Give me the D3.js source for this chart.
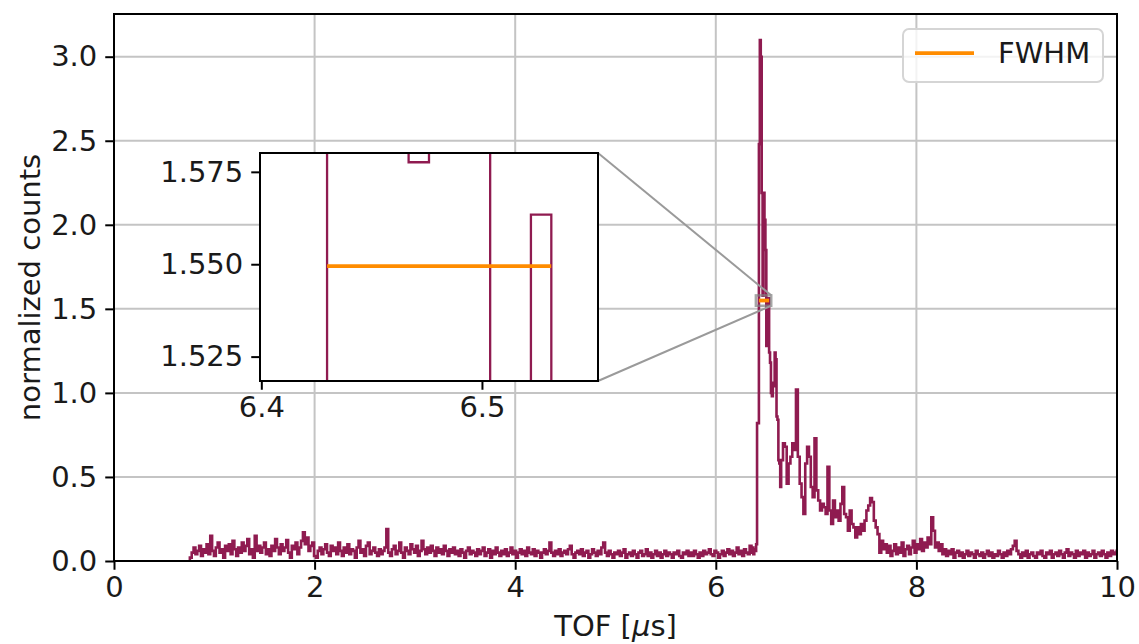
<!DOCTYPE html>
<html><head><meta charset="utf-8">
<script src="https://cdn.jsdelivr.net/npm/d3@7"></script>
<style>body{margin:0;background:#fff}</style>
</head><body><svg id="c" width="1139" height="644"></svg>
<script>
// ---------------- data ----------------
const binWidth = 0.00924;          // fine TOF bin width [µs]
const peakEdge = 6.4298;           // left edge of the FWHM bin
const coarseFactor = 2;            // coarse bins = 2 fine bins (away from the peak)
// counts before the peak (coarse bins)
const baselineCounts = [
 0.02,0.05,0.08,0.04,0.06,0.09,0.03,0.07,0.05,0.10,
 0.04,0.15,0.06,0.03,0.08,0.11,0.05,0.07,0.02,0.09,
 0.06,0.10,0.04,0.12,0.07,0.03,0.08,0.05,0.11,0.06,
 0.09,0.13,0.04,0.07,0.02,0.15,0.06,0.09,0.05,0.08,
 0.11,0.04,0.07,0.03,0.09,0.06,0.13,0.08,0.04,0.10,
 0.06,0.08,0.125,0.05,0.02,0.09,0.07,0.11,0.04,0.08,
 0.12,0.17,0.10,0.14,0.06,0.09,0.11,0.03,0.02,0.06,
 0.08,0.04,0.07,0.10,0.05,0.03,0.09,0.06,0.08,0.04,
 0.11,0.06,0.03,0.08,0.05,0.10,0.04,0.07,0.06,0.02,
 0.08,0.12,0.05,0.07,0.03,0.09,0.11,0.04,0.06,0.08,
 0.05,0.03,0.07,0.04,0.06,0.08,0.19,0.05,0.03,0.07,
 0.09,0.04,0.06,0.11,0.05,0.02,0.08,0.06,0.04,0.10,
 0.07,0.05,0.09,0.03,0.06,0.12,0.07,0.04,0.08,0.05,
 0.09,0.06,0.03,0.08,0.05,0.07,0.04,0.09,0.06,0.03,
 0.07,0.05,0.08,0.04,0.06,0.03,0.07,0.05,0.02,0.06,
 0.08,0.04,0.06,0.05,0.03,0.07,0.04,0.06,0.08,0.03,
 0.05,0.07,0.02,0.06,0.04,0.08,0.05,0.03,0.06,0.04,
 0.07,0.03,0.05,0.08,0.04,0.06,0.02,0.05,0.07,0.04,
 0.06,0.03,0.08,0.05,0.04,0.07,0.03,0.06,0.05,0.02,
 0.05,0.07,0.04,0.06,0.11,0.05,0.03,0.06,0.04,0.07,
 0.03,0.05,0.06,0.04,0.07,0.09,0.04,0.02,0.05,0.06,
 0.04,0.07,0.03,0.05,0.06,0.02,0.04,0.07,0.05,0.03,
 0.06,0.04,0.08,0.11,0.05,0.03,0.06,0.04,0.02,0.05,
 0.04,0.06,0.03,0.05,0.07,0.02,0.04,0.05,0.03,0.06,
 0.04,0.02,0.05,0.06,0.03,0.04,0.07,0.03,0.05,0.02,
 0.04,0.06,0.03,0.05,0.02,0.04,0.06,0.03,0.05,0.04,
 0.02,0.05,0.04,0.06,0.03,0.02,0.05,0.04,0.06,0.03,
 0.05,0.03,0.06,0.04,0.02,0.05,0.03,0.06,0.04,0.05,
 0.07,0.04,0.03,0.06,0.05,0.02,0.04,0.06,0.03,0.05,
 0.07,0.04,0.06,0.03,0.05,0.08,0.04,0.06,0.03,0.07,
 0.05,0.04,0.09
];
// counts around the peak (fine bins, first bin starts 8 bins before peakEdge)
const peakCounts = [
 0.05,0.08,0.04,0.07,0.06,0.10,0.82,0.82,
 2.48,3.099,3.00,2.19,1.5776,2.19,2.03,1.85,
 1.28,1.45,1.5634,1.24,1.18,1.00,0.98,1.06,
 1.04,1.24,1.20,0.86,0.84,0.60,0.58,0.44
];
// counts after the peak (coarse bins)
const tailCounts = [
 0.60,0.70,0.68,0.46,0.58,0.62,0.70,0.66,1.02,0.62,
 0.46,0.38,0.28,0.58,0.68,0.62,0.44,0.38,0.73,0.42,
 0.36,0.30,0.34,0.32,0.28,0.56,0.30,0.22,0.36,0.26,
 0.30,0.24,0.34,0.44,0.28,0.26,0.18,0.30,0.22,0.20,
 0.14,0.20,0.16,0.22,0.18,0.24,0.30,0.33,0.375,0.35,
 0.24,0.20,0.16,0.05,0.12,0.07,0.10,0.05,0.09,0.03,
 0.06,0.10,0.04,0.08,0.05,0.11,0.03,0.07,0.09,0.04,
 0.08,0.12,0.05,0.10,0.07,0.13,0.06,0.11,0.08,0.14,
 0.10,0.26,0.18,0.08,0.11,0.06,0.10,0.04,0.07,0.03,
 0.06,0.04,0.07,0.02,0.05,0.06,0.03,0.05,0.02,0.04,
 0.06,0.03,0.05,0.04,0.02,0.06,0.04,0.03,0.05,0.02,
 0.04,0.06,0.03,0.05,0.02,0.04,0.03,0.06,0.04,0.02,
 0.05,0.03,0.06,0.04,0.07,0.09,0.12,0.06,0.04,0.02,
 0.05,0.03,0.06,0.02,0.04,0.05,0.03,0.02,0.05,0.04,
 0.06,0.03,0.02,0.05,0.04,0.06,0.02,0.04,0.05,0.03,
 0.06,0.04,0.02,0.05,0.07,0.03,0.05,0.04,0.02,0.06,
 0.03,0.05,0.04,0.06,0.02,0.05,0.03,0.04,0.06,0.02,
 0.04,0.05,0.03,0.06,0.04,0.02,0.05,0.03,0.06,0.04,
 0.05,0.06
];
const fwhmRange = [6.4298, 6.5314];
const fwhmLevel = 1.5495;
const legendLabel = "FWHM";
const xDomain = [0, 10];
const yDomain = [0, 3.254];
const xTicks = [0, 2, 4, 6, 8, 10];
const yTicks = [0, 0.5, 1.0, 1.5, 2.0, 2.5, 3.0];
const insetXDomain = [6.3994, 6.5526];
const insetYDomain = [1.5184, 1.5801];
const insetXTicks = [6.4, 6.5];
const insetYTicks = [1.525, 1.550, 1.575];

// ---------------- build histogram edges ----------------
const coarse = coarseFactor * binWidth;
const fineStart = peakEdge - 8 * binWidth;
const edges = [fineStart - baselineCounts.length * coarse];
const values = [];
function addBins(arr, w) {
  arr.forEach(v => { values.push(v); edges.push(edges[edges.length - 1] + w); });
}
addBins(baselineCounts, coarse);
addBins(peakCounts, binWidth);
addBins(tailCounts, coarse);
const steps = [[edges[0], 0]];
values.forEach((v, i) => { steps.push([edges[i], v], [edges[i + 1], v]); });
steps.push([edges[edges.length - 1], 0]);

// ---------------- drawing ----------------
const FONT = "DejaVu Sans";
const FS = 29;
const HIST = "#8f1b50";
const ORANGE = "#ff8c00";
const svg = d3.select("#c");
const L = 114, R = 1117, T = 14, B = 561;
const x = d3.scaleLinear(xDomain, [L, R]);
const y = d3.scaleLinear(yDomain, [B, T]);

const defs = svg.append("defs");
defs.append("clipPath").attr("id", "mainClip").append("rect")
  .attr("x", L).attr("y", T).attr("width", R - L).attr("height", B - T);

// grid
const grid = svg.append("g").attr("stroke", "#c4c4c4").attr("stroke-width", 2);
xTicks.forEach(t => grid.append("line").attr("x1", x(t)).attr("x2", x(t)).attr("y1", T).attr("y2", B));
yTicks.forEach(t => grid.append("line").attr("x1", L).attr("x2", R).attr("y1", y(t)).attr("y2", y(t)));

// histogram
const line = (sx, sy) => d3.line().x(d => sx(d[0])).y(d => sy(d[1]));
svg.append("path").attr("clip-path", "url(#mainClip)")
  .attr("d", line(x, y)(steps)).attr("fill", "none")
  .attr("stroke", HIST).attr("stroke-width", 2.6).attr("stroke-linejoin", "miter");
svg.append("line").attr("x1", x(fwhmRange[0])).attr("x2", x(fwhmRange[1]))
  .attr("y1", y(fwhmLevel)).attr("y2", y(fwhmLevel))
  .attr("stroke", ORANGE).attr("stroke-width", 3.75);

// indicator rectangle
const rx0 = x(insetXDomain[0]), rx1 = x(insetXDomain[1]);
const ry0 = y(insetYDomain[1]), ry1 = y(insetYDomain[0]);
svg.append("rect").attr("x", rx0).attr("y", ry0).attr("width", rx1 - rx0).attr("height", ry1 - ry0)
  .attr("fill", "none").attr("stroke", "rgba(128,128,128,0.7)").attr("stroke-width", 2.5);

// axes
function styleAxis(g) {
  g.select(".domain").remove();
  g.selectAll(".tick line").attr("stroke", "#000").attr("stroke-width", 2);
  g.selectAll(".tick text").attr("font-family", FONT).attr("font-size", FS).attr("fill", "#1a1a1a");
}
svg.append("g").attr("transform", `translate(0,${B})`)
  .call(d3.axisBottom(x).tickValues(xTicks).tickFormat(d3.format("d")).tickSize(8.75).tickPadding(7))
  .call(styleAxis);
svg.append("g").attr("transform", `translate(${L},0)`)
  .call(d3.axisLeft(y).tickValues(yTicks).tickFormat(d3.format(".1f")).tickSize(8.75).tickPadding(8))
  .call(styleAxis);
svg.append("rect").attr("x", L).attr("y", T).attr("width", R - L).attr("height", B - T)
  .attr("fill", "none").attr("stroke", "#000").attr("stroke-width", 2);

// axis labels
const xl = svg.append("text").attr("x", (L + R) / 2).attr("y", 636).attr("text-anchor", "middle")
  .attr("font-family", FONT).attr("font-size", FS).attr("fill", "#1a1a1a");
xl.append("tspan").text("TOF [");
xl.append("tspan").attr("font-style", "italic").text("μ");
xl.append("tspan").text("s]");
svg.append("text").attr("transform", `translate(40,${(T + B) / 2}) rotate(-90)`)
  .attr("text-anchor", "middle").attr("font-family", FONT).attr("font-size", FS).attr("fill", "#1a1a1a")
  .text("normalized counts");

// legend
const lg = svg.append("g");
lg.append("rect").attr("x", 903).attr("y", 29).attr("width", 200).attr("height", 53).attr("rx", 6)
  .attr("fill", "rgba(255,255,255,0.8)").attr("stroke", "#d5d5d5").attr("stroke-width", 2);
lg.append("line").attr("x1", 915).attr("x2", 974).attr("y1", 53).attr("y2", 53)
  .attr("stroke", ORANGE).attr("stroke-width", 3.75);
lg.append("text").attr("x", 998).attr("y", 63).attr("font-family", FONT).attr("font-size", FS)
  .attr("fill", "#1a1a1a").text(legendLabel);

// inset
const IL = 260, IR = 598, IT = 153, IB = 381;
const ix = d3.scaleLinear(insetXDomain, [IL, IR]);
const iy = d3.scaleLinear(insetYDomain, [IB, IT]);
// connectors
svg.append("line").attr("x1", IR).attr("y1", IT).attr("x2", rx1).attr("y2", ry0)
  .attr("stroke", "#9a9a9a").attr("stroke-width", 2);
svg.append("line").attr("x1", IR).attr("y1", IB).attr("x2", rx1).attr("y2", ry1)
  .attr("stroke", "#9a9a9a").attr("stroke-width", 2);
defs.append("clipPath").attr("id", "insetClip").append("rect")
  .attr("x", IL).attr("y", IT).attr("width", IR - IL).attr("height", IB - IT);
svg.append("rect").attr("x", IL).attr("y", IT).attr("width", IR - IL).attr("height", IB - IT).attr("fill", "#fff");
svg.append("path").attr("clip-path", "url(#insetClip)")
  .attr("d", line(ix, iy)(steps)).attr("fill", "none")
  .attr("stroke", HIST).attr("stroke-width", 2.3);
svg.append("line").attr("clip-path", "url(#insetClip)")
  .attr("x1", ix(fwhmRange[0])).attr("x2", ix(fwhmRange[1]))
  .attr("y1", iy(fwhmLevel)).attr("y2", iy(fwhmLevel))
  .attr("stroke", ORANGE).attr("stroke-width", 3.75);
svg.append("g").attr("transform", `translate(0,${IB})`)
  .call(d3.axisBottom(ix).tickValues(insetXTicks).tickFormat(d3.format(".1f")).tickSize(8.75).tickPadding(7))
  .call(styleAxis);
svg.append("g").attr("transform", `translate(${IL},0)`)
  .call(d3.axisLeft(iy).tickValues(insetYTicks).tickFormat(d3.format(".3f")).tickSize(8.75).tickPadding(8))
  .call(styleAxis);
svg.append("rect").attr("x", IL).attr("y", IT).attr("width", IR - IL).attr("height", IB - IT)
  .attr("fill", "none").attr("stroke", "#000").attr("stroke-width", 2);
</script></body></html>
